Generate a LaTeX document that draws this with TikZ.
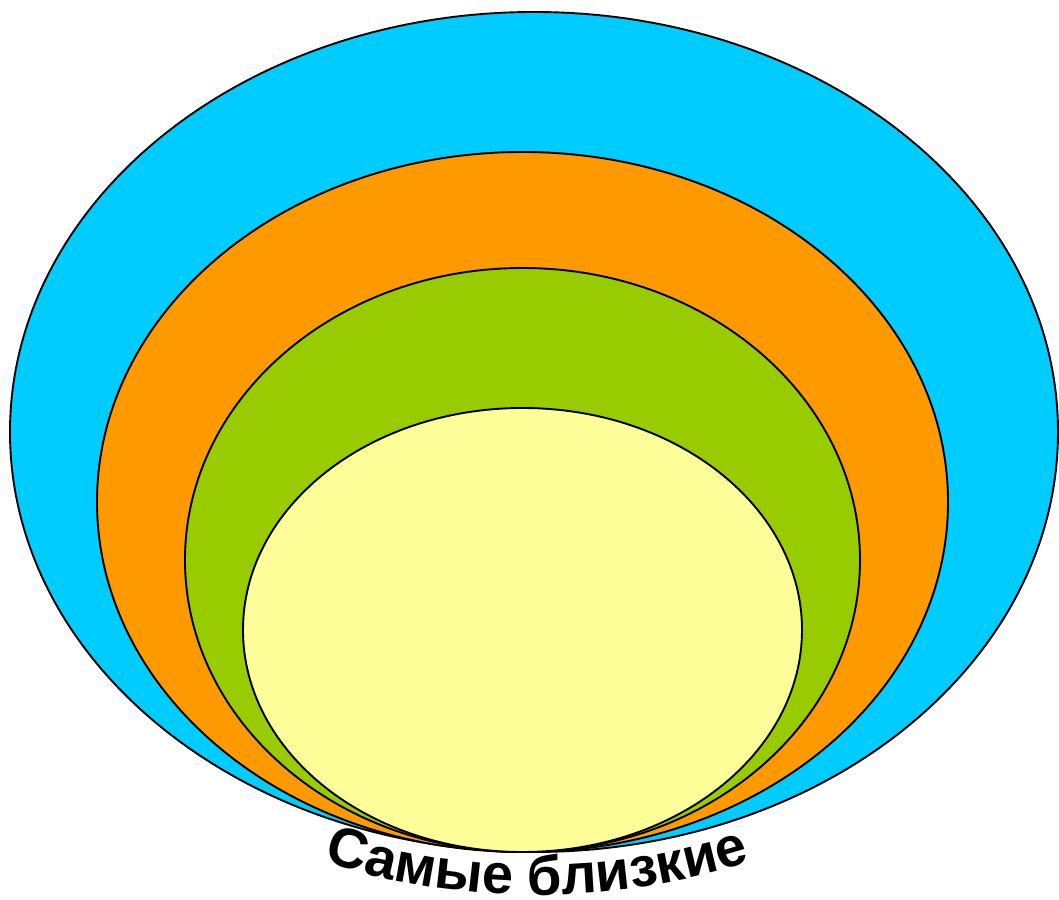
\documentclass[tikz,border=0pt]{standalone}
\usepackage{fontspec}
\usetikzlibrary{decorations.text}
\newfontfamily\ringfont{Liberation Sans}
\definecolor{ringOuter}{HTML}{00ccff}
\definecolor{ringWide}{HTML}{ff9900}
\definecolor{ringNear}{HTML}{99cc00}
\definecolor{ringCore}{HTML}{ffff99}

\begin{document}
\begin{tikzpicture}[x=1pt,y=1pt,ring/.style={draw=black, line width=1.9pt}]
\useasboundingbox (0,0) rectangle (1059,899);
\coordinate (outer) at (534,467); \coordinate (wide) at (522.5,397);
\coordinate (near) at (522.5,339); \coordinate (core) at (522.5,269);
\draw[ring, fill=ringOuter] (outer) ellipse [x radius=524pt, y radius=420pt];
\draw[ring, fill=ringWide] (wide) ellipse [x radius=425.5pt, y radius=350pt];
\draw[ring, fill=ringNear] (near) ellipse [x radius=337.5pt, y radius=292pt];
\draw[ring, fill=ringCore] (core) ellipse [x radius=279.5pt, y radius=222pt];
% caption bent along the bottom
\coordinate (bend) at (537,704);
\path[decorate, decoration={text along path, text align=center,
  text={|\ringfont\bfseries\fontsize{56}{60}\selectfont|Самые близкие}}]
  (bend) ++(-114:700pt) arc[start angle=-114, end angle=-66, radius=700pt];
\end{tikzpicture}
\end{document}
